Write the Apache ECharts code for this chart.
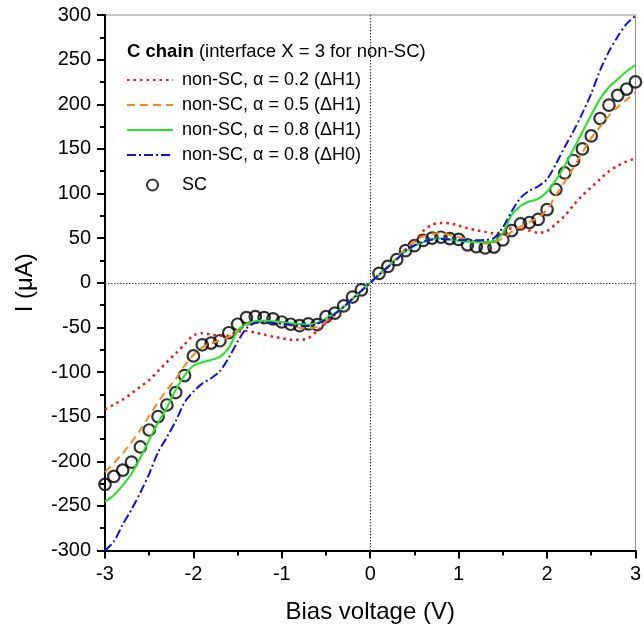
<!DOCTYPE html>
<html>
<head>
<meta charset="utf-8">
<script src="https://cdn.jsdelivr.net/npm/echarts@6/dist/echarts.min.js"></script>
<style>
html,body{margin:0;padding:0;background:#fff;overflow:hidden;width:100%;height:100%;}
#chart{position:absolute;left:0;top:0;width:644px;height:633px;}
</style>
</head>
<body>
<div id="chart"></div>
<script>
// Bias voltage grid (V)
const V = [-3.0,-2.9,-2.8,-2.7,-2.6,-2.5,-2.4,-2.3,-2.2,-2.1,-2.0,-1.9,-1.8,-1.7,-1.6,-1.5,-1.4,-1.3,-1.2,-1.1,-1.0,-0.9,-0.8,-0.7,-0.6,-0.5,-0.4,-0.3,-0.2,-0.1,
  0,
  0.1,0.2,0.3,0.4,0.5,0.6,0.7,0.8,0.9,1.0,1.1,1.2,1.3,1.4,1.5,1.6,1.7,1.8,1.9,2.0,2.1,2.2,2.3,2.4,2.5,2.6,2.7,2.8,2.9,3.0];

// Currents (µA)
const I_SC = [-226,-217,-210,-201,-184,-165,-150,-137,-123,-104,-82,-69.5,-67.6,-65,-56,-46.5,-39,-38,-39,-40.5,-44,-46.5,-48,-46,-47,-38,-34,-26,-16,-8,
  null,
  10.5,18.3,26,36,41.5,47.5,50,51,49.5,48.5,42.5,40.5,39,40,48,58.5,66,67.5,71,82,104.5,123,137,150,164.5,184,199,210,217,225];

const I_A02_H1 = [-142,-136.5,-131,-124,-116.5,-109,-99,-89,-79,-69,-59,-56.5,-58,-59.5,-59,-55,-54,-56,-58,-60.5,-62,-64,-64,-62,-54,-45,-36,-27,-18,-9,
  0,
  9,18,27,37,46,58,65,67,66.5,64,61,59,57,55.5,56,61,61,58.5,56,58,66,75,87,98,107,116,125,131,136,139];

const I_A05_H1 = [-212,-202,-191,-178.5,-165,-149,-134,-120,-108,-93,-81,-72.5,-68,-64.5,-60.5,-53,-48,-44,-43,-43.5,-45.5,-48,-50.5,-51,-49.5,-43,-35,-27,-18,-9,
  0,
  9.5,18.5,28,38,46,52,55,55.5,53.5,51,48,45.5,44,45,50,57,63,68,73,82,98,113,129,146,162,175,187,197,205,213];

const I_A08_H1 = [-245,-238,-227,-214,-196,-176,-157,-140,-120,-104,-93,-89,-86.5,-83,-73,-54,-46,-43,-42.5,-43,-44,-45.5,-46.5,-47,-45,-40,-34,-27,-18,-9.5,
  0,
  9,18,27,35,41,45.5,48.5,49.5,48.5,47,46,45.5,45.5,46.5,56,76,86,91,94,102,115,131,150,169,188,206,219,228,237,244];

const I_A08_H0 = [-300,-290,-271,-254,-235,-214,-190,-173,-155,-134,-122,-113,-107,-99,-84,-66,-51,-45,-44.5,-45,-46,-47,-48,-48.5,-46,-41,-35,-27,-18,-9,
  0,
  9,17.5,26,36,42,46,48.5,49,48.5,48,47.5,47.5,48,50,62,80,95,103,108,116,133,152,170,190,212,238,259,276,290,299];

const NAMES = ['non-SC, \u03b1 = 0.2 (\u0394H1)','non-SC, \u03b1 = 0.5 (\u0394H1)','non-SC, \u03b1 = 0.8 (\u0394H1)','non-SC, \u03b1 = 0.8 (\u0394H0)','SC'];
const LEGEND_TITLE = ['C chain', ' (interface X = 3 for non-SC)'];

const pairs = (ys) => V.map((v, i) => [v, ys[i]]);
const FONT = "'Liberation Sans', Arial, Helvetica, sans-serif";

const chart = echarts.init(document.getElementById('chart'), null, {renderer: 'canvas', width: 644, height: 633});

const lineSeries = (name, ys, color, type, w) => ({
  name, type: 'line', data: pairs(ys), smooth: 0.3, showSymbol: false, symbol: 'none',
  lineStyle: {color, width: w || 2, type}, itemStyle: {color}, z: 3, clip: true
});

const legendTops = [71, 96, 121, 146, 176];
const legends = NAMES.map((n, i) => i < 4 ? ({
  data: [n], left: 126, top: legendTops[i], padding: 0,
  itemWidth: 46, itemHeight: 14, selectedMode: false,
  itemStyle: {opacity: 0},
  textStyle: {fontSize: 18, fontFamily: FONT, color: '#000', lineHeight: 18, padding: [0,0,0,4]}
}) : ({
  data: [n], left: 146, top: legendTops[i], padding: 0,
  itemWidth: 11, itemHeight: 11, selectedMode: false,
  textStyle: {fontSize: 18, fontFamily: FONT, color: '#000', lineHeight: 18, padding: [0,0,0,19]}
}));

chart.setOption({
  animation: false,
  backgroundColor: '#fff',
  title: {
    text: '{b|' + LEGEND_TITLE[0] + '}' + LEGEND_TITLE[1],
    left: 127, top: 42, padding: 0,
    textStyle: {fontSize: 18.5, fontWeight: 'normal', fontFamily: FONT, color: '#000',
      rich: {b: {fontSize: 18.5, fontWeight: 'bold', fontFamily: FONT, color: '#000'}}}
  },
  legend: legends,
  grid: {left: 105, right: 3, top: 15, bottom: 82.5, show: true, borderColor: '#8a8a8a', borderWidth: 1},
  xAxis: {
    type: 'value', min: -3, max: 3, interval: 1,
    name: 'Bias voltage (V)', nameLocation: 'middle', nameGap: 50,
    nameTextStyle: {fontSize: 24, fontFamily: FONT, color: '#000'},
    axisLine: {onZero: false, lineStyle: {color: '#000', width: 2}},
    axisTick: {show: true, inside: false, length: 8, lineStyle: {color: '#000', width: 2}},
    minorTick: {show: true, splitNumber: 2, length: 5, lineStyle: {color: '#000', width: 2}},
    axisLabel: {fontSize: 20, fontFamily: FONT, color: '#000', margin: 14},
    splitLine: {show: false}
  },
  yAxis: {
    type: 'value', min: -300, max: 300, interval: 50,
    name: 'I (\u03bcA)', nameLocation: 'middle', nameGap: 68,
    nameTextStyle: {fontSize: 24, fontFamily: FONT, color: '#000'},
    axisLine: {onZero: false, lineStyle: {color: '#000', width: 2}},
    axisTick: {show: true, inside: false, length: 8, lineStyle: {color: '#000', width: 2}},
    minorTick: {show: true, splitNumber: 2, length: 5, lineStyle: {color: '#000', width: 2}},
    axisLabel: {fontSize: 20, fontFamily: FONT, color: '#000', margin: 14},
    splitLine: {show: false}
  },
  series: [
    lineSeries(NAMES[0], I_A02_H1, '#f01818', [2.5, 4], 2.5),
    lineSeries(NAMES[1], I_A05_H1, '#f5891f', [8, 5]),
    lineSeries(NAMES[2], I_A08_H1, '#22e622', 'solid'),
    lineSeries(NAMES[3], I_A08_H0, '#1010dd', [9, 3, 2, 3]),
    {
      name: NAMES[4], type: 'scatter', data: pairs(I_SC),
      symbol: 'circle', symbolSize: 11.5, z: 2,
      itemStyle: {color: 'rgba(255,255,255,0)', borderColor: '#000', borderWidth: 2.2},
      markLine: {
        silent: true, symbol: 'none', animation: false, z: 1,
        label: {show: false},
        lineStyle: {color: '#444', width: 1.2, type: [1.5, 1.5]},
        data: [{xAxis: 0}, {yAxis: 0}]
      }
    }
  ]
});
</script>
</body>
</html>
